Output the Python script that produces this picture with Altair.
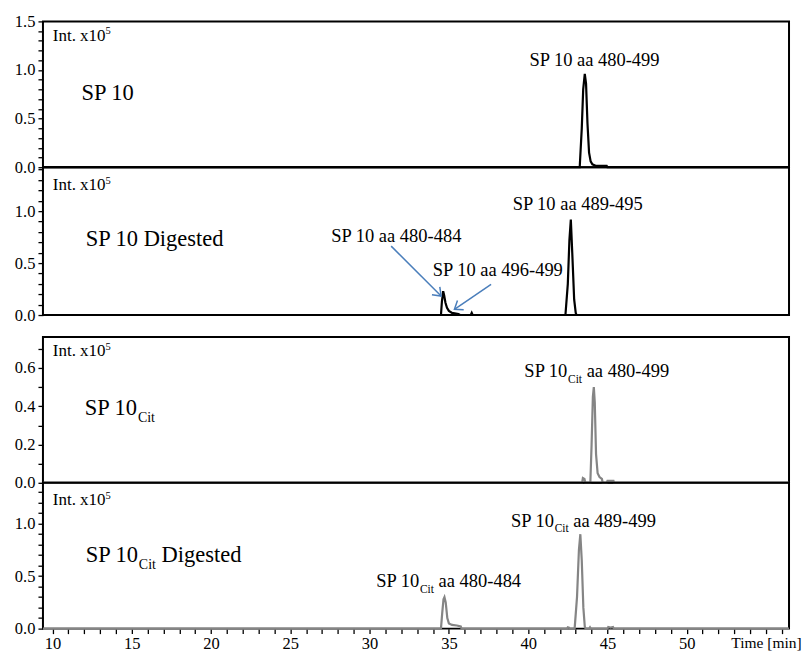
import altair as alt
import pandas as pd

FONT = "Liberation Serif"
X_DOMAIN = [9.4, 56.45]

# ---------------- chromatogram traces (time [min], intensity x1e5) ----------------
t_sp10 = [9.4, 43.25, 43.38, 43.47, 43.57, 43.65, 43.74, 43.84, 43.94, 44.05, 44.25, 44.95, 45.0, 56.45]
i_sp10 = [0, 0, 0.40, 0.80, 0.96, 0.86, 0.45, 0.15, 0.06, 0.03, 0.015, 0.015, 0, 0]

t_sp10_dig = [9.4, 34.5, 34.56, 34.64, 34.7, 34.78, 34.88, 35.0, 35.2, 35.6, 35.7, 36.38, 36.44, 36.5,
              42.35, 42.5, 42.6, 42.69, 42.78, 42.9, 43.0, 43.05, 56.45]
i_sp10_dig = [0, 0, 0.13, 0.23, 0.19, 0.12, 0.07, 0.04, 0.02, 0.01, 0, 0, 0.02, 0,
              0, 0.3, 0.72, 0.92, 0.6, 0.15, 0.02, 0, 0]

t_cit = [9.4, 43.4, 43.45, 43.55, 43.6, 43.92, 44.0, 44.08, 44.14, 44.2, 44.28, 44.38, 44.5, 44.65, 44.7,
         44.95, 45.0, 45.38, 45.42, 56.45]
i_cit = [0, 0, 0.025, 0.02, 0, 0, 0.2, 0.45, 0.5, 0.42, 0.15, 0.05, 0.03, 0.02, 0,
         0, 0.01, 0.01, 0, 0]

t_cit_dig = [9.4, 34.5, 34.58, 34.66, 34.72, 34.8, 34.9, 35.0, 35.2, 35.5, 35.75, 35.8,
             42.45, 42.5, 42.58, 42.62,
             42.93, 43.08, 43.2, 43.29, 43.38, 43.48, 43.57, 43.62,
             43.85, 43.9, 43.95,
             45.0, 45.05, 45.2, 45.35, 45.4, 56.45]
i_cit_dig = [0, 0, 0.15, 0.28, 0.30, 0.25, 0.10, 0.05, 0.035, 0.03, 0.02, 0,
             0, 0.012, 0.008, 0,
             0, 0.3, 0.75, 0.9, 0.65, 0.2, 0.02, 0,
             0, 0.012, 0,
             0, 0.015, 0.01, 0.015, 0, 0]

# ---------------- panel settings ----------------
panel_traces = [(t_sp10, i_sp10), (t_sp10_dig, i_sp10_dig), (t_cit, i_cit), (t_cit_dig, i_cit_dig)]
panel_colors = ["black", "black", "#858585", "#858585"]
panel_ymax = [1.5, 1.423, 0.762, 1.39]
panel_ytick_max = [1.5, 1.4, 0.7, 1.3]
panel_major_mult = [2, 2, 5, 2]   # labels at multiples of 0.5 or 0.2
panel_heights = [146, 148, 146, 146]
GAP = 22

# ---------------- annotations ----------------
# parts: (text, kind) kind: n = normal, sub = subscript, sup = superscript
int_label_parts = [("Int. x10", "n"), ("5", "sup")]
int_label_x = 10.02
int_label_y = [1.302, 1.199, 0.662, 1.178]

big_labels = [
    (0, 11.83, 0.696, [("SP 10", "n")]),
    (1, 12.1, 0.663, [("SP 10 Digested", "n")]),
    (2, 12.04, 0.352, [("SP 10", "n"), ("Cit", "sub")]),
    (3, 12.1, 0.631, [("SP 10", "n"), ("Cit", "sub"), (" Digested", "n")]),
]
peak_labels = [
    (0, 40.08, 1.04, [("SP 10 aa 480-499", "n")]),
    (1, 39.02, 1.007, [("SP 10 aa 489-495", "n")]),
    (1, 27.58, 0.705, [("SP 10 aa 480-484", "n")]),
    (1, 33.98, 0.375, [("SP 10 aa 496-499", "n")]),
    (2, 39.76, 0.553, [("SP 10", "n"), ("Cit", "sub"), (" aa 480-499", "n")]),
    (3, 38.92, 0.971, [("SP 10", "n"), ("Cit", "sub"), (" aa 489-499", "n")]),
    (3, 30.42, 0.393, [("SP 10", "n"), ("Cit", "sub"), (" aa 480-484", "n")]),
]

# arrows in panel 2: start x, start y, end x, end y
arrow_x = [31.36, 37.66]
arrow_y = [0.663, 0.295]
arrow_x2 = [34.51, 35.35]
arrow_y2 = [0.183, 0.055]
arrow_head_angle = [45, 146]
ARROW_COLOR = "#4a7ebb"

# Times-like glyph widths (per 1000 em) for laying out sub/superscript pieces
W = {' ': 250, 'S': 556, 'P': 556, 'a': 444, '-': 333, 'C': 667, 'i': 278, 't': 278,
     'D': 722, 'g': 500, 'e': 444, 's': 389, 'd': 500, 'I': 333, 'n': 500, '.': 250, 'x': 500}


def text_width(s, size):
    return sum(W.get(c, 500) for c in s) / 1000.0 * size


def x_enc(bottom):
    if bottom:
        axis = alt.Axis(values=list(range(10, 57)),
                        labelExpr="datum.value == 55 ? 'Time [min]' : ((datum.value % 5 == 0 && datum.value <= 50) ? ('' + datum.value) : '')",
                        labelFontSize={"condition": {"test": "datum.value == 55", "value": 15.5}, "value": 16.5},
                        title=None, domain=False, grid=False, tickSize=5, labelPadding=2,
                        labelFlush=False, labelOverlap=False)
    else:
        axis = None
    return alt.X("t:Q", scale=alt.Scale(domain=X_DOMAIN, nice=False, zero=False), axis=axis)


def y_enc(p):
    n = int(round(panel_ytick_max[p] * 10))
    vals = [round(k * 0.1, 1) for k in range(n + 1)]
    m = panel_major_mult[p]
    axis = alt.Axis(values=vals,
                    labelExpr=f"abs(datum.value*{m} - round(datum.value*{m})) < 0.001 ? format(datum.value, '.1f') : ''",
                    title=None, domain=False, grid=False, tickSize=5, labelPadding=3,
                    labelFlush=False, labelOverlap=False)
    return alt.Y("i:Q", scale=alt.Scale(domain=[0, panel_ymax[p]], nice=False, zero=True), axis=axis)


def label_layers(p, x, y, parts, size, bottom):
    layers = []
    dx = 0.0
    for text, kind in parts:
        if kind == "sub":
            fs, dy = size * 0.62, size * 0.3
        elif kind == "sup":
            fs, dy = size * 0.62, -size * 0.38
        else:
            fs, dy = size, 0
        stripped = text.lstrip(" ")
        dx += text_width(text[: len(text) - len(stripped)], fs)
        df = pd.DataFrame({"t": [x], "i": [y], "s": [stripped]})
        layers.append(
            alt.Chart(df).mark_text(align="left", baseline="alphabetic", dx=dx, dy=dy,
                                    fontSize=fs, font=FONT, color="black")
            .encode(x=x_enc(bottom), y=y_enc(p), text="s:N")
        )
        dx += text_width(stripped, fs)
    return layers


def panel(p):
    bottom = (p == 3)
    t, i = panel_traces[p]
    df = pd.DataFrame({"t": t, "i": i})
    layers = [
        alt.Chart(df).mark_line(color=panel_colors[p], strokeWidth=2.2)
        .encode(x=x_enc(bottom), y=y_enc(p))
    ]
    layers += label_layers(p, int_label_x, int_label_y[p], int_label_parts, 17, bottom)
    for (pp, x, y, parts) in big_labels:
        if pp == p:
            layers += label_layers(p, x, y, parts, 22.5, bottom)
    for (pp, x, y, parts) in peak_labels:
        if pp == p:
            layers += label_layers(p, x, y, parts, 18.5, bottom)
    if p == 1:
        adf = pd.DataFrame({"t": arrow_x, "i": arrow_y, "t2": arrow_x2, "i2": arrow_y2})
        layers.append(
            alt.Chart(adf).mark_rule(color=ARROW_COLOR, strokeWidth=1.5)
            .encode(x=x_enc(bottom), y=y_enc(p), x2="t2:Q", y2="i2:Q")
        )
        for k in range(len(arrow_x)):
            hdf = pd.DataFrame({"t": [arrow_x2[k]], "i": [arrow_y2[k]]})
            layers.append(
                alt.Chart(hdf).mark_point(shape="M -1 -0.75 L 0 0 L -1 0.75", angle=arrow_head_angle[k],
                                          filled=False, stroke=ARROW_COLOR, strokeWidth=1.5,
                                          size=220, opacity=1)
                .encode(x=x_enc(bottom), y=y_enc(p))
            )
    return alt.layer(*layers).properties(width=747, height=panel_heights[p])


spacer = (
    alt.Chart(pd.DataFrame({"t": [20.0], "i": [0.0]}))
    .mark_point(opacity=0)
    .encode(x=alt.X("t:Q", axis=None), y=alt.Y("i:Q", axis=None))
    .properties(width=747, height=GAP, view=alt.ViewBackground(strokeOpacity=0, fillOpacity=0))
)

chart = (
    alt.VConcatChart(vconcat=[panel(0), panel(1), spacer, panel(2), panel(3)], spacing=0, bounds="flush")
    .resolve_scale(y="independent", x="independent")
    .properties(padding={"left": 5, "top": 4, "right": 0, "bottom": 0})
    .configure(background="white")
    .configure_view(stroke="black", strokeWidth=2)
    .configure_axis(labelFont=FONT, labelFontSize=16.5, labelColor="black",
                    tickColor="black", tickWidth=1.3)
)

chart.save("out.html", embed_options={"renderer": "svg", "actions": False})
